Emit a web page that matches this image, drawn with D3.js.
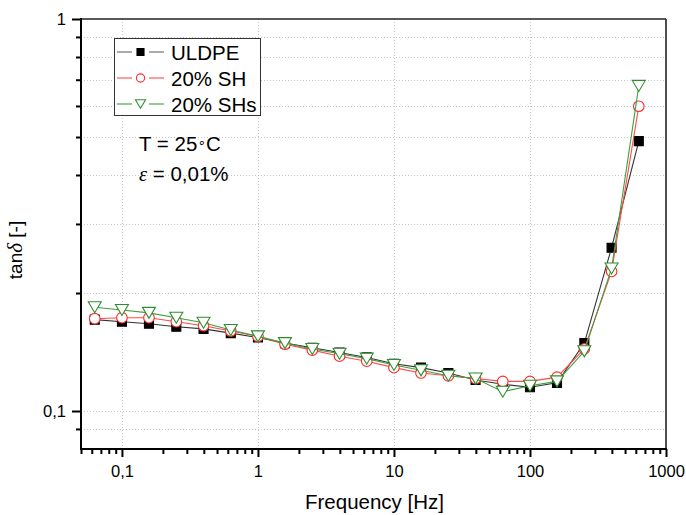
<!DOCTYPE html>
<html>
<head>
<meta charset="utf-8">
<script src="https://cdn.jsdelivr.net/npm/d3@7"></script>
<style>
body { margin: 0; background: #fff; }
text { font-family: "Liberation Sans", Arial, sans-serif; }
</style>
</head>
<body>
<script>
// data
var freq = [0.0631, 0.1, 0.158, 0.251, 0.398, 0.631, 1, 1.58, 2.51, 3.98, 6.31,
            10, 15.8, 25.1, 39.8, 63.1, 100, 158, 251, 398, 631];
var uldpe = [0.171, 0.169, 0.167, 0.164, 0.162, 0.158, 0.154, 0.149, 0.145, 0.141, 0.137,
             0.132, 0.129, 0.125, 0.120, 0.117, 0.115, 0.118, 0.149, 0.261, 0.488];
var sh20 = [0.172, 0.173, 0.173, 0.169, 0.165, 0.160, 0.155, 0.148, 0.143, 0.138, 0.134,
            0.129, 0.125, 0.123, 0.121, 0.119, 0.119, 0.122, 0.144, 0.227, 0.599];
var shs20 = [0.184, 0.181, 0.178, 0.173, 0.168, 0.161, 0.155, 0.149, 0.144, 0.140, 0.136,
             0.131, 0.127, 0.123, 0.121, 0.112, 0.116, 0.119, 0.142, 0.231, 0.675];
var seriesNames = ["ULDPE", "20% SH", "20% SHs"];
var xTickValues = [0.1, 1, 10, 100, 1000];
var xTickLabels = ["0,1", "1", "10", "100", "1000"];
var yTickValues = [0.1, 1];
var yTickLabels = ["0,1", "1"];

var W = 686, H = 515;
var mLeft = 81, mRight = 666, mTop = 19, mBottom = 449;

var svg = d3.select("body").append("svg")
    .attr("width", W)
    .attr("height", H);

var x = d3.scaleLog().domain([0.05, 1000]).range([mLeft, mRight]);
var y = d3.scaleLog().domain([0.08, 1]).range([mBottom, mTop]);

// minor tick values
var xMinor = [];
[0.01, 0.1, 1, 10, 100].forEach(function(d) {
  for (var k = 2; k < 10; k++) {
    var v = d * k;
    if (v >= 0.05 && v <= 1000) xMinor.push(v);
  }
});
var yMinor = [0.09, 0.2, 0.3, 0.4, 0.5, 0.6, 0.7, 0.8, 0.9];

// grid
var grid = svg.append("g").attr("stroke", "#c8c8c8").attr("stroke-width", 1)
    .attr("stroke-dasharray", "1,2");
grid.selectAll(".gx").data([0.1, 1, 10, 100]).enter().append("line")
    .attr("x1", function(d) { return Math.round(x(d)) + 0.5; })
    .attr("x2", function(d) { return Math.round(x(d)) + 0.5; })
    .attr("y1", mTop).attr("y2", mBottom);
grid.selectAll(".gy").data(yMinor.concat([0.1])).enter().append("line")
    .attr("y1", function(d) { return Math.round(y(d)) + 0.5; })
    .attr("y2", function(d) { return Math.round(y(d)) + 0.5; })
    .attr("x1", mLeft).attr("x2", mRight);

// axes
var xAxis = d3.axisBottom(x).tickValues(xTickValues).tickSize(8)
    .tickFormat(function(d, i) { return xTickLabels[i]; });
var gx = svg.append("g").attr("transform", "translate(0," + mBottom + ")").call(xAxis);
gx.select(".domain").remove();
gx.selectAll(".tick line").attr("stroke", "#000").attr("stroke-width", 2);
gx.selectAll(".tick text").attr("font-size", 16.5).attr("fill", "#000").attr("dy", "1.02em");

var xAxisMinor = d3.axisBottom(x).tickValues(xMinor).tickSize(5).tickFormat("");
var gxm = svg.append("g").attr("transform", "translate(0," + mBottom + ")").call(xAxisMinor);
gxm.select(".domain").remove();
gxm.selectAll(".tick line").attr("stroke", "#000").attr("stroke-width", 2);

var yAxis = d3.axisLeft(y).tickValues(yTickValues).tickSize(9)
    .tickFormat(function(d, i) { return yTickLabels[i]; });
var gy = svg.append("g").attr("transform", "translate(" + mLeft + ",0)").call(yAxis);
gy.select(".domain").remove();
gy.selectAll(".tick line").attr("stroke", "#000").attr("stroke-width", 2);
gy.selectAll(".tick text").attr("font-size", 16.5).attr("fill", "#000").attr("x", -15);

var yAxisMinor = d3.axisLeft(y).tickValues(yMinor).tickSize(5).tickFormat("");
var gym = svg.append("g").attr("transform", "translate(" + mLeft + ",0)").call(yAxisMinor);
gym.select(".domain").remove();
gym.selectAll(".tick line").attr("stroke", "#000").attr("stroke-width", 2);

// frame
svg.append("line").attr("x1", mLeft).attr("x2", mRight).attr("y1", mTop).attr("y2", mTop)
    .attr("stroke", "#222").attr("stroke-width", 1.6);
svg.append("line").attr("x1", mRight).attr("x2", mRight).attr("y1", mTop).attr("y2", mBottom + 1)
    .attr("stroke", "#222").attr("stroke-width", 1.6);
svg.append("line").attr("x1", mLeft).attr("x2", mLeft).attr("y1", mTop - 1).attr("y2", mBottom + 1)
    .attr("stroke", "#000").attr("stroke-width", 2);
svg.append("line").attr("x1", mLeft - 1).attr("x2", mRight + 1).attr("y1", mBottom).attr("y2", mBottom)
    .attr("stroke", "#000").attr("stroke-width", 2);

// symbols
function sqPath(cx, cy, s) {
  return "M" + (cx - s) + "," + (cy - s) + "h" + (2 * s) + "v" + (2 * s) + "h" + (-2 * s) + "Z";
}
function circPath(cx, cy, r) {
  return "M" + (cx + r) + "," + cy + "A" + r + "," + r + " 0 1,1 " + (cx - r) + "," + cy +
         "A" + r + "," + r + " 0 1,1 " + (cx + r) + "," + cy + "Z";
}
function triPath(cx, cy, s) {
  var w = 6.5 * s, h = 5.5 * s;
  return "M" + (cx - w) + "," + (cy - h) + "L" + (cx + w) + "," + (cy - h) +
         "L" + cx + "," + (cy + h) + "Z";
}
function symbolPath(kind, cx, cy, scale) {
  if (kind == "sq") return sqPath(cx, cy, 4.5 * scale);
  if (kind == "circ") return circPath(cx, cy, 5.3 * scale);
  return triPath(cx, cy, scale);
}

var series = [
  { vals: uldpe, line: "#333", kind: "sq", stroke: "#000", fill: "#000" },
  { vals: sh20, line: "#ff4a4a", kind: "circ", stroke: "#ff2a2a", fill: "#fff" },
  { vals: shs20, line: "#3f9f3f", kind: "tri", stroke: "#2e8e2e", fill: "#fff" }
];

var lineGen = d3.line()
    .x(function(d) { return x(d[0]); })
    .y(function(d) { return y(d[1]); });

series.forEach(function(s) {
  var pts = freq.map(function(f, i) { return [f, s.vals[i]]; });
  svg.append("path").datum(pts).attr("d", lineGen)
      .attr("fill", "none").attr("stroke", s.line).attr("stroke-width", 1.1);
  var g = svg.append("g");
  g.selectAll("path").data(pts).enter().append("path")
      .attr("d", function(d) { return symbolPath(s.kind, x(d[0]), y(d[1]), 1); })
      .attr("fill", s.fill).attr("stroke", s.stroke).attr("stroke-width", 1.1);
});

// legend
var lg = svg.append("g");
lg.append("rect").attr("x", 114.5).attr("y", 38.5).attr("width", 146).attr("height", 77)
    .attr("fill", "#fff").attr("stroke", "#333").attr("stroke-width", 1);
series.forEach(function(s, i) {
  var cy = 52 + i * 26, cx = 140.5;
  var lc = i == 0 ? "#666" : s.line;
  lg.append("line").attr("x1", 117).attr("x2", 132).attr("y1", cy).attr("y2", cy)
      .attr("stroke", lc).attr("stroke-width", 1.1);
  lg.append("line").attr("x1", 149).attr("x2", 164).attr("y1", cy).attr("y2", cy)
      .attr("stroke", lc).attr("stroke-width", 1.1);
  lg.append("path").attr("d", symbolPath(s.kind, cx, cy, 0.78))
      .attr("fill", s.fill).attr("stroke", s.stroke).attr("stroke-width", 1.1);
  lg.append("text").attr("x", 171).attr("y", cy + 7.5).attr("font-size", 20.5)
      .attr("fill", "#000").text(seriesNames[i]);
});

// annotations
var t1 = svg.append("text").attr("x", 139).attr("y", 151).attr("font-size", 20.5).attr("fill", "#000");
t1.append("tspan").text("T = 25");
t1.append("tspan").attr("font-family", "DejaVu Sans").attr("font-size", 13).attr("dx", 0.5).attr("dy", -4).text("\u2218");
t1.append("tspan").attr("dy", 4).text("C");

var t2 = svg.append("text").attr("x", 139).attr("y", 181).attr("font-size", 20.5).attr("fill", "#000");
t2.append("tspan").attr("font-family", "Liberation Serif").attr("font-style", "italic").text("\u03B5");
t2.append("tspan").text(" = 0,01%");

// axis titles
svg.append("text").attr("x", (mLeft + mRight) / 2 + 1).attr("y", 509).attr("text-anchor", "middle")
    .attr("font-size", 20.5).attr("fill", "#000").text("Frequency [Hz]");

var yt = svg.append("text").attr("transform", "translate(22,250) rotate(-90)")
    .attr("text-anchor", "middle").attr("font-size", 19).attr("fill", "#000");
yt.append("tspan").text("tan");
yt.append("tspan").attr("font-family", "Liberation Serif").attr("font-style", "italic").attr("font-size", 21).text("\u03B4");
yt.append("tspan").text(" [-]");
</script>
</body>
</html>
